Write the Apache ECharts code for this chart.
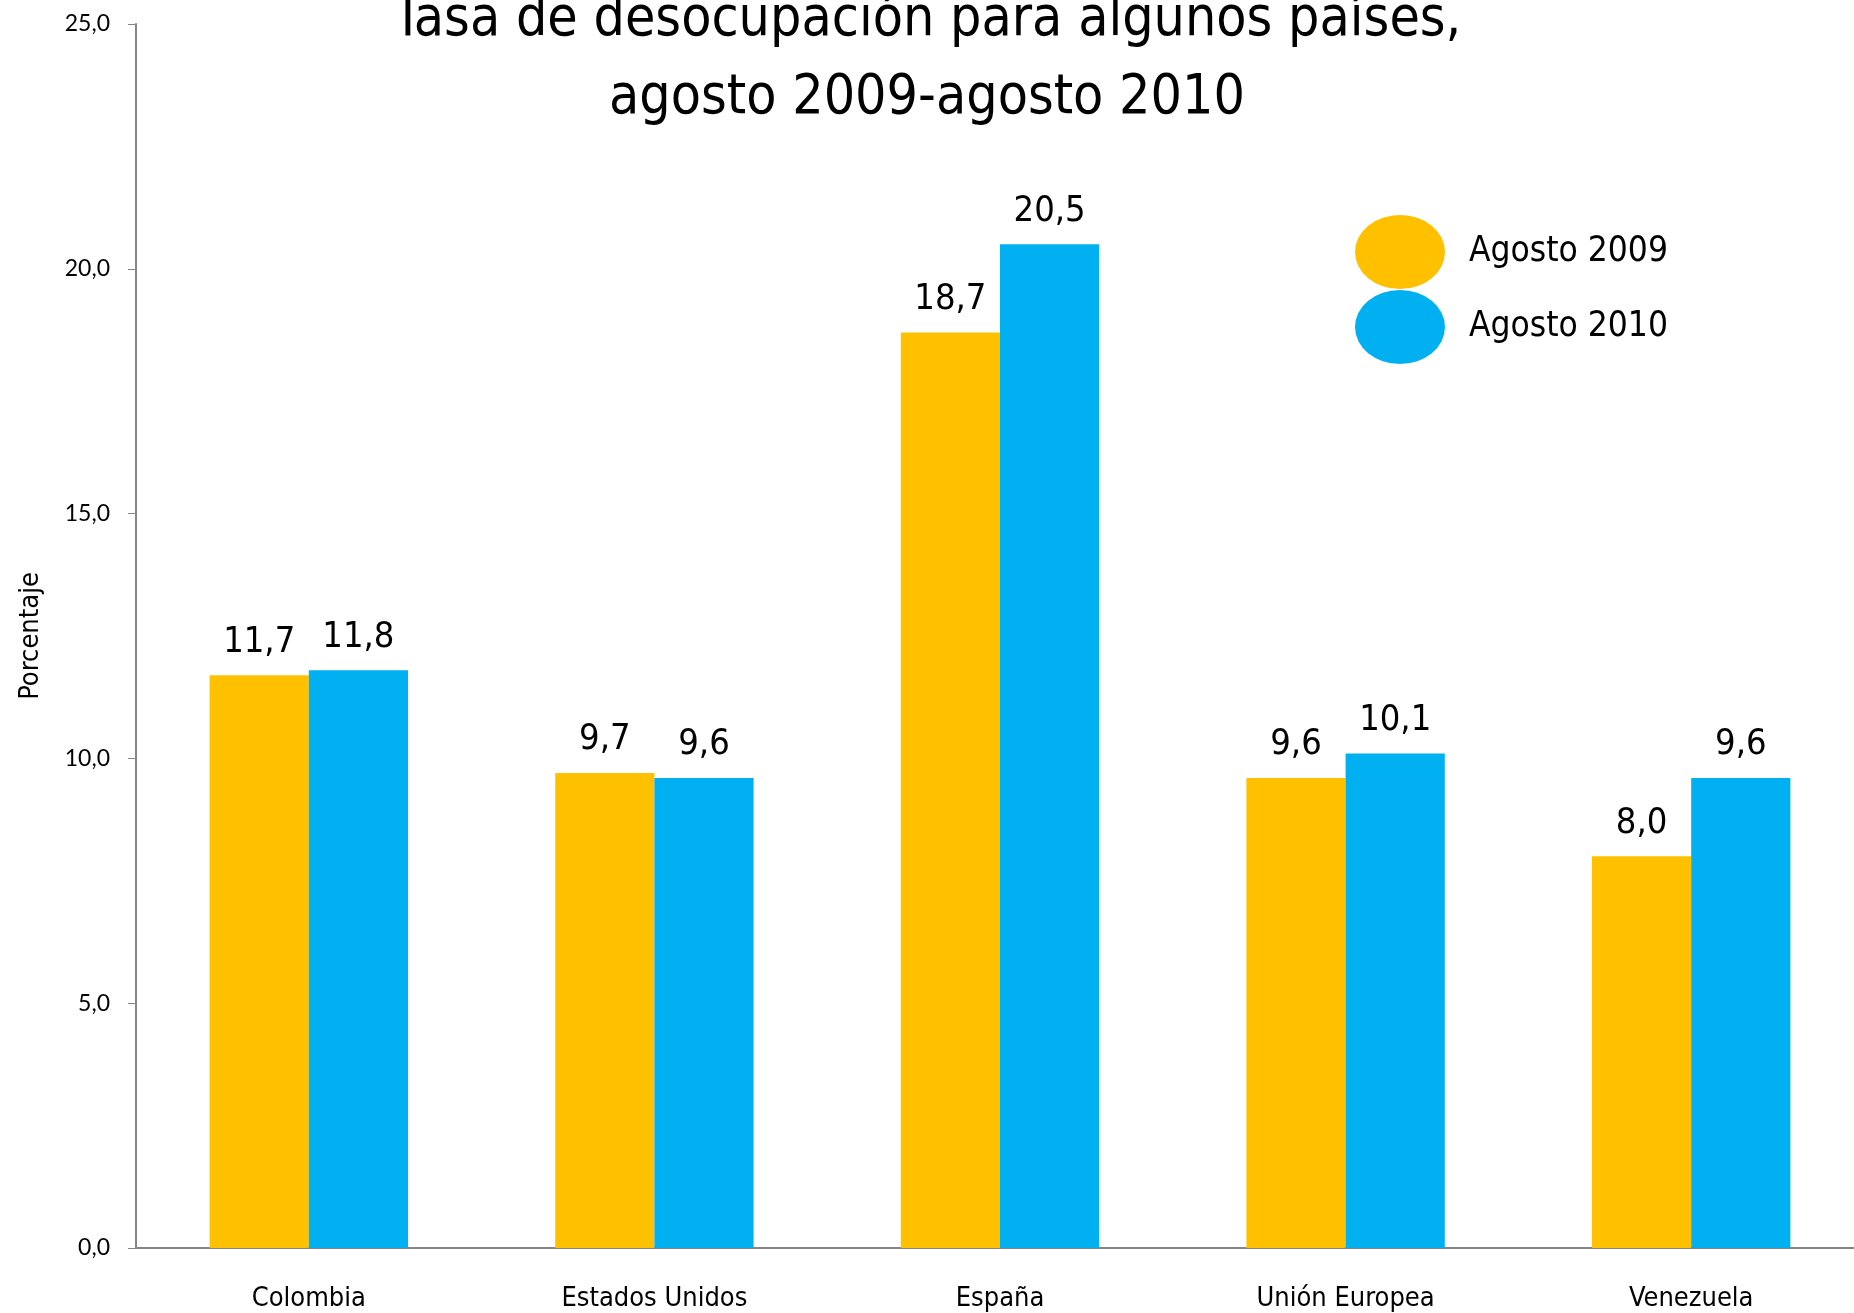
<!DOCTYPE html>
<html>
<head>
<meta charset="utf-8">
<script src="https://cdn.jsdelivr.net/npm/echarts@6/dist/echarts.min.js"></script>
<style>
  html,body{margin:0;padding:0;background:#fff;}
</style>
</head>
<body>
<div id="chart" style="width:1854px;height:1313px"></div>
<script>
// datos
var paises = ['Colombia', 'Estados Unidos', 'España', 'Unión Europea', 'Venezuela'];
var agosto2009 = [11.7, 9.7, 18.7, 9.6, 8.0];
var agosto2010 = [11.8, 9.6, 20.5, 10.1, 9.6];
var nombresSeries = ['Agosto 2009', 'Agosto 2010'];

var narrow = '"Liberation Sans Narrow", "DejaVu Sans Condensed", sans-serif';
var ejeColor = '#868686';
// elipse para la leyenda (se estira al tamaño del icono)
var elipse = 'path://M0,50 A50,50 0 1,1 100,50 A50,50 0 1,1 0,50 Z';

function coma(v) {
    return v.toFixed(1).replace('.', ',');
}

var myChart = echarts.init(document.getElementById('chart'));
var option = {
    backgroundColor: '#fff',
    animation: false,
    title: {
        text: 'Tasa de desocupación para algunos países,\nagosto 2009-agosto 2010',
        left: 'center',
        top: -18,
        padding: [0, 0, 0, 35],
        textStyle: {
            fontFamily: narrow,
            fontWeight: 'normal',
            fontSize: 55,
            lineHeight: 78,
            color: '#000'
        }
    },
    legend: {
        data: nombresSeries,
        orient: 'vertical',
        left: 1355,
        top: 215,
        padding: 0,
        itemWidth: 90,
        itemHeight: 74,
        itemGap: 1,
        icon: elipse,
        symbolKeepAspect: false,
        textStyle: {
            fontFamily: narrow,
            fontSize: 35,
            color: '#000',
            padding: [0, 0, 0, 19]
        }
    },
    grid: {
        left: 136,
        right: -10,
        top: 24,
        bottom: 65,
        outerBoundsMode: 'none'
    },
    xAxis: {
        type: 'category',
        data: paises,
        axisLine: {lineStyle: {color: ejeColor, width: 2}},
        axisTick: {length: 10, lineStyle: {color: ejeColor, width: 1}},
        axisLabel: {
            margin: 37,
            fontFamily: narrow,
            fontSize: 27,
            color: '#000'
        }
    },
    yAxis: {
        type: 'value',
        min: 0,
        max: 25,
        interval: 5,
        name: 'Porcentaje',
        nameLocation: 'middle',
        nameGap: 92,
        nameTextStyle: {
            fontFamily: narrow,
            fontSize: 27,
            color: '#000'
        },
        splitLine: {show: false},
        axisLine: {show: true, lineStyle: {color: ejeColor, width: 2}},
        axisTick: {show: true, length: 8, lineStyle: {color: ejeColor, width: 1}},
        axisLabel: {
            margin: 26,
            fontFamily: 'Lato, "Open Sans", sans-serif',
            fontSize: 23,
            color: '#000',
            formatter: function (v) { return coma(v); }
        }
    },
    series: [
        {
            name: nombresSeries[0],
            type: 'bar',
            data: agosto2009,
            barWidth: '28.7%',
            barGap: '0%',
            itemStyle: {color: '#FFC000'},
            label: {
                show: true,
                position: 'top',
                distance: 15,
                fontFamily: narrow,
                fontSize: 36,
                color: '#000',
                formatter: function (p) { return coma(p.value); }
            }
        },
        {
            name: nombresSeries[1],
            type: 'bar',
            data: agosto2010,
            barWidth: '28.7%',
            barGap: '0%',
            itemStyle: {color: '#00B0F0'},
            label: {
                show: true,
                position: 'top',
                distance: 15,
                fontFamily: narrow,
                fontSize: 36,
                color: '#000',
                formatter: function (p) { return coma(p.value); }
            }
        }
    ]
};
myChart.setOption(option, true);
</script>
</body>
</html>
